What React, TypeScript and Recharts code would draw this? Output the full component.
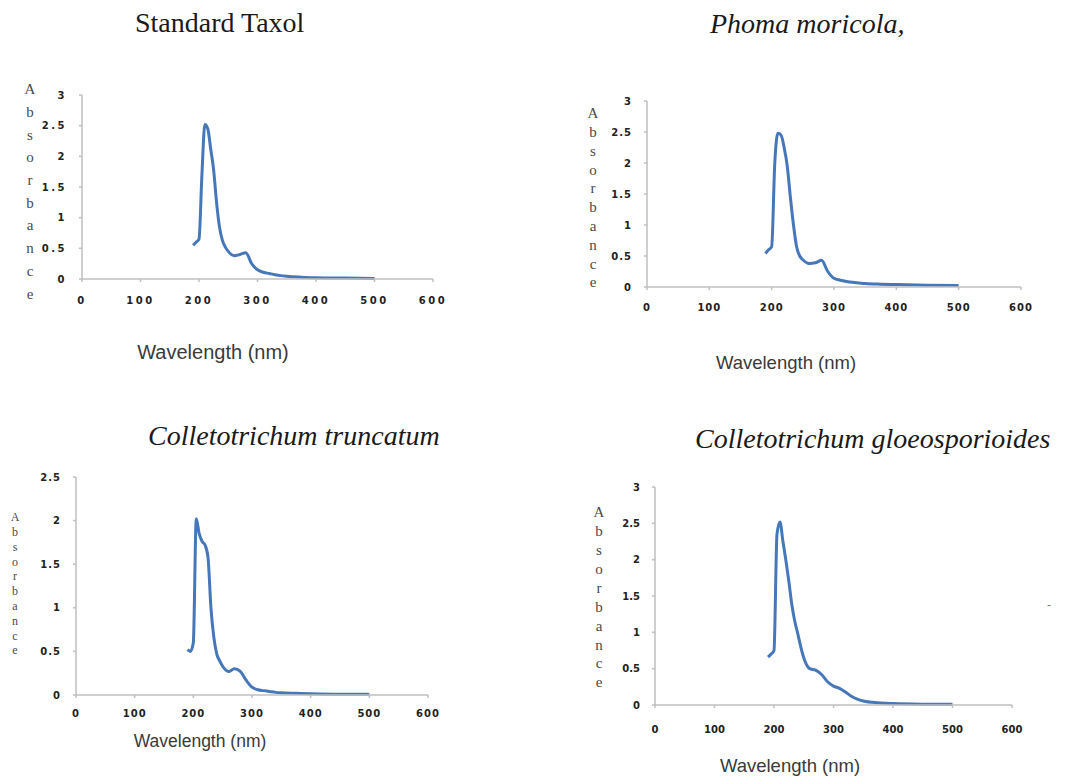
import { LineChart, Line, XAxis, YAxis } from "recharts";

// sampled wavelengths (nm), shared by the four spectra
const wavelengths = [
  190, 195, 200, 205, 210, 215, 220, 225, 230, 235, 240, 245, 250, 260, 270, 280, 290, 300, 310, 320,
  330, 340, 350, 375, 400, 450, 500,
];

const standardTaxol = [
  0.55, 0.6, 0.65, 1.7, 2.52, 2.45, 2.12, 1.78, 1.25, 0.85, 0.63, 0.52, 0.45, 0.38, 0.4, 0.43, 0.25,
  0.15, 0.11, 0.09, 0.07, 0.055, 0.045, 0.03, 0.02, 0.015, 0.01,
];
const phomaMoricola = [
  0.54, 0.6, 0.65, 2.0, 2.48, 2.45, 2.25, 1.95, 1.45, 1.0, 0.65, 0.5, 0.44, 0.38, 0.39, 0.43, 0.25,
  0.14, 0.11, 0.09, 0.075, 0.065, 0.055, 0.045, 0.04, 0.03, 0.025,
];
const collTruncatum = [
  0.52, 0.5, 0.6, 2.02, 1.85, 1.76, 1.72, 1.58, 1.0, 0.66, 0.47, 0.39, 0.33, 0.27, 0.3, 0.27, 0.17,
  0.09, 0.06, 0.05, 0.04, 0.03, 0.025, 0.02, 0.015, 0.01, 0.01,
];
const collGloeo = [
  0.66, 0.7, 0.75, 2.35, 2.52, 2.25, 1.99, 1.7, 1.38, 1.15, 0.98, 0.8, 0.65, 0.5, 0.48, 0.42, 0.32,
  0.26, 0.23, 0.18, 0.12, 0.08, 0.055, 0.03, 0.02, 0.012, 0.01,
];

const xTicks = [0, 100, 200, 300, 400, 500, 600];
const yTicks3 = [0, 0.5, 1, 1.5, 2, 2.5, 3];
const yTicks25 = [0, 0.5, 1, 1.5, 2, 2.5];

const xTitle = "Wavelength (nm)";
const yTitle = "Absorbance";

const ML = 75;
const MT = 20;
const MR = 20;
const axisColor = "#bfbfbf";

type PanelProps = {
  series: number[];
  x0: number;
  x1: number;
  y0: number;
  y1: number;
  yMax: number;
  yTicks: number[];
  xTickMargin: number;
  spacing: number;
  xLabel: { x: number; y: number; size: number };
  letters: { x: number; y: number; step: number; size: number };
};

const Panel = ({ series, x0, x1, y0, y1, yMax, yTicks, xTickMargin, spacing, xLabel, letters }: PanelProps) => {
  const left = x0 - ML;
  const top = y0 - MT;
  const width = x1 - x0 + ML + MR;
  const height = Math.min(xLabel.y + 16, 780) - top;
  const mb = top + height - y1;
  const rows = wavelengths.map((w, i) => ({ wavelength: w, absorbance: series[i] }));
  const tick = { fill: "#222", fontSize: 10, fontWeight: 700, fontFamily: "DejaVu Sans", letterSpacing: spacing };

  const absorbance = () => (
    <text x={letters.x - left} y={letters.y - top} fill="#4a4a4a" fontSize={letters.size} fontFamily="Liberation Serif" textAnchor="middle">
      {yTitle.split("").map((ch, i) => (
        <tspan key={i} x={letters.x - left} dy={i === 0 ? "0.35em" : letters.step}>
          {ch}
        </tspan>
      ))}
    </text>
  );

  const wavelength = () => (
    <text x={xLabel.x - left} y={xLabel.y - top} fill="#3a3a3a" fontSize={xLabel.size} fontFamily="Liberation Sans" textAnchor="middle" dominantBaseline="central">
      {xTitle}
    </text>
  );

  return (
    <div style={{ position: "absolute", left, top }}>
      <LineChart width={width} height={height} data={rows} margin={{ top: MT, right: MR, bottom: 0, left: 0 }}>
        <XAxis
          dataKey="wavelength"
          type="number"
          domain={[0, 600]}
          ticks={xTicks}
          height={mb}
          stroke={axisColor}
          strokeWidth={1.5}
          tickSize={3}
          tickMargin={xTickMargin}
          tick={tick}
          label={wavelength}
        />
        <YAxis
          type="number"
          domain={[0, yMax]}
          ticks={yTicks}
          width={ML}
          stroke={axisColor}
          strokeWidth={1.5}
          tickSize={3}
          tickMargin={12}
          tick={tick}
          label={absorbance}
        />
        <Line type="monotone" dataKey="absorbance" stroke="#4677b8" strokeWidth={3} dot={false} isAnimationActive={false} />
      </LineChart>
    </div>
  );
};

const titleStyle = {
  position: "absolute" as const,
  fontFamily: "Liberation Serif",
  fontSize: 28,
  lineHeight: "28px",
  color: "#1a1a1a",
  whiteSpace: "nowrap" as const,
};

export default function App() {
  return (
    <div style={{ position: "absolute", left: 0, top: 0, width: 1067, height: 780, overflow: "hidden", background: "#fff" }}>
      <div style={{ ...titleStyle, left: 135, top: 9 }}>Standard Taxol</div>
      <div style={{ ...titleStyle, left: 710, top: 10, fontStyle: "italic" }}>Phoma moricola,</div>
      <div style={{ ...titleStyle, left: 148, top: 422, fontStyle: "italic" }}>Colletotrichum truncatum</div>
      <div style={{ ...titleStyle, left: 695, top: 425, fontStyle: "italic" }}>Colletotrichum gloeosporioides</div>
      <div style={{ position: "absolute", left: 1047, top: 598, fontSize: 12, color: "#777", fontFamily: "Liberation Sans" }}>-</div>

      <Panel
        series={standardTaxol}
        x0={82}
        x1={433}
        y0={95}
        y1={279}
        yMax={3}
        yTicks={yTicks3}
        xTickMargin={15}
        spacing={2.5}
        xLabel={{ x: 213, y: 352, size: 20 }}
        letters={{ x: 30, y: 89, step: 22.7, size: 15 }}
      />
      <Panel
        series={phomaMoricola}
        x0={647}
        x1={1021}
        y0={101}
        y1={287}
        yMax={3}
        yTicks={yTicks3}
        xTickMargin={14}
        spacing={1}
        xLabel={{ x: 786, y: 362, size: 18.5 }}
        letters={{ x: 593, y: 113, step: 18.8, size: 15 }}
      />
      <Panel
        series={collTruncatum}
        x0={76}
        x1={428}
        y0={477}
        y1={695}
        yMax={2.5}
        yTicks={yTicks25}
        xTickMargin={12}
        spacing={1}
        xLabel={{ x: 200, y: 741, size: 17.5 }}
        letters={{ x: 15, y: 517, step: 14.8, size: 12 }}
      />
      <Panel
        series={collGloeo}
        x0={655}
        x1={1012}
        y0={487}
        y1={705}
        yMax={3}
        yTicks={yTicks3}
        xTickMargin={18}
        spacing={0}
        xLabel={{ x: 790, y: 765, size: 18.5 }}
        letters={{ x: 599, y: 512, step: 18.9, size: 15 }}
      />
    </div>
  );
}
